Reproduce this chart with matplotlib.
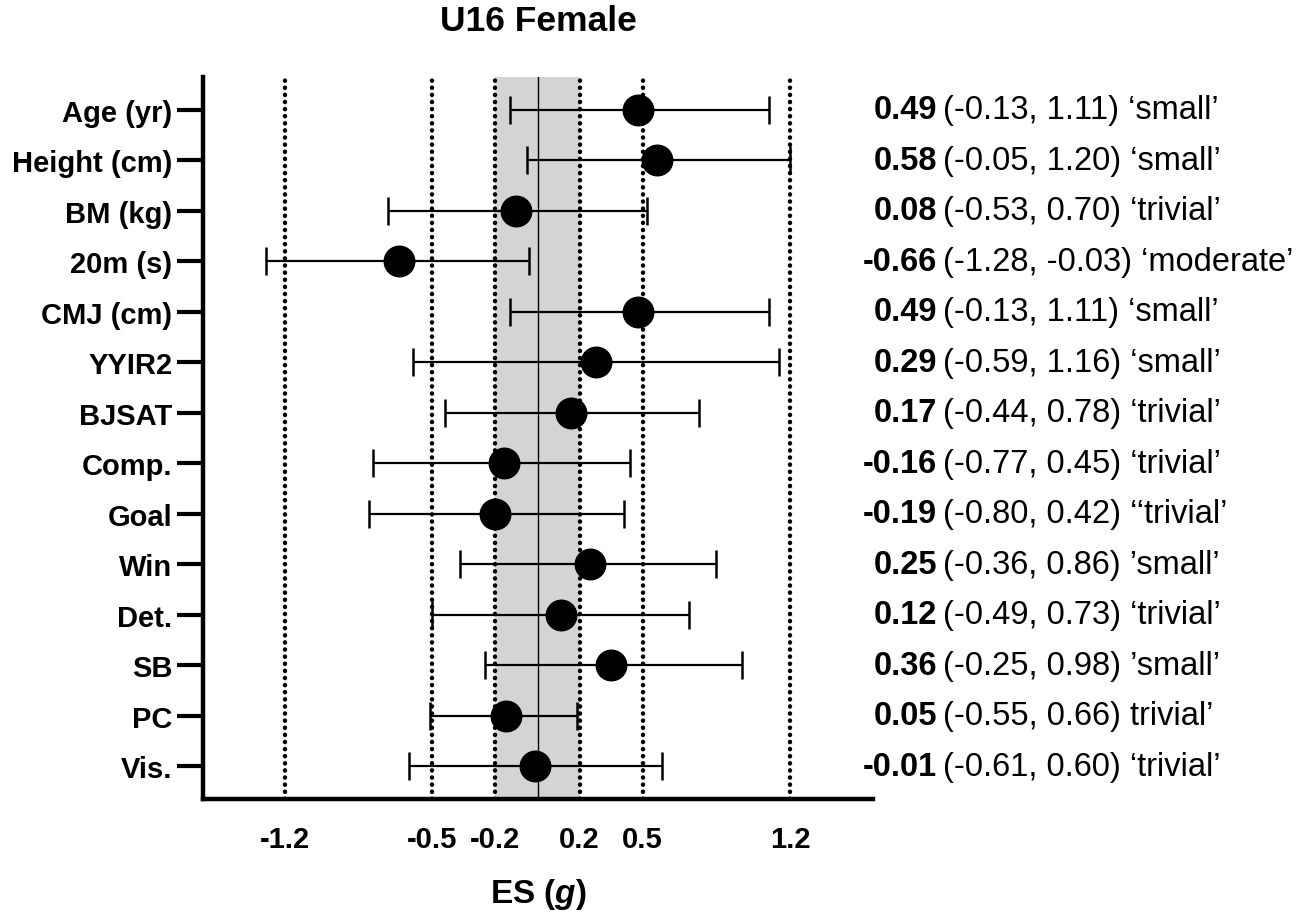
import matplotlib
matplotlib.use("Agg")
import matplotlib.pyplot as plt

plt.rcParams['font.family'] = ['Liberation Sans', 'DejaVu Sans']
plt.rcParams['mathtext.fontset'] = 'custom'
plt.rcParams['mathtext.it'] = 'Liberation Sans:bold:italic'
plt.rcParams['mathtext.rm'] = 'Liberation Sans:bold'

# data
labels = ['Age (yr)', 'Height (cm)', 'BM (kg)', '20m (s)', 'CMJ (cm)', 'YYIR2',
          'BJSAT', 'Comp.', 'Goal', 'Win', 'Det.', 'SB', 'PC', 'Vis.']
es = [0.48, 0.57, -0.10, -0.66, 0.48, 0.28, 0.16, -0.16, -0.20, 0.25, 0.11, 0.35, -0.15, -0.01]
lo = [-0.13, -0.05, -0.71, -1.29, -0.13, -0.59, -0.44, -0.78, -0.80, -0.37, -0.50, -0.25, -0.51, -0.61]
hi = [1.10, 1.20, 0.52, -0.04, 1.10, 1.15, 0.77, 0.44, 0.41, 0.85, 0.72, 0.97, 0.19, 0.59]

# annotation text on the right
es_txt = ['0.49', '0.58', '0.08', '-0.66', '0.49', '0.29', '0.17', '-0.16', '-0.19',
          '0.25', '0.12', '0.36', '0.05', '-0.01']
ci_txt = ["(-0.13, 1.11) \u2018small\u2019", "(-0.05, 1.20) \u2018small\u2019",
          "(-0.53, 0.70) \u2018trivial\u2019", "(-1.28, -0.03) \u2018moderate\u2019",
          "(-0.13, 1.11) \u2018small\u2019", "(-0.59, 1.16) \u2018small\u2019",
          "(-0.44, 0.78) \u2018trivial\u2019", "(-0.77, 0.45) \u2018trivial\u2019",
          "(-0.80, 0.42) \u2018\u2018trivial\u2019", "(-0.36, 0.86) \u2019small\u2019",
          "(-0.49, 0.73) \u2018trivial\u2019", "(-0.25, 0.98) \u2019small\u2019",
          "(-0.55, 0.66) trivial\u2019", "(-0.61, 0.60) \u2018trivial\u2019"]

ref_lines = [-1.2, -0.5, -0.2, 0.2, 0.5, 1.2]

fig = plt.figure(figsize=(13.04, 9.2), dpi=100)
ax = fig.add_axes([0.1557, 0.1304, 0.5138, 0.7850])

ypos = list(range(len(labels)))
ax.axvspan(-0.2, 0.2, color='#d4d4d4', lw=0, zorder=0)
ax.axvline(0, color='black', lw=1.0, zorder=1)
for x in ref_lines:
    ax.axvline(x, color='black', lw=3.2, ls=(0, (0.05, 1.55)),
               dash_capstyle='round', zorder=2)

err = [[e - l for e, l in zip(es, lo)], [h - e for e, h in zip(es, hi)]]
ax.errorbar(es, ypos, xerr=err, fmt='o', color='black', ms=22, lw=1.6,
            capsize=10, capthick=1.8, zorder=3)

ax.set_xlim(-1.59, 1.595)
ax.set_ylim(len(labels) - 0.35, -0.65)
ax.set_xticks(ref_lines)
ax.set_xticklabels(['-1.2', '-0.5', '-0.2', '0.2', '0.5', '1.2'])
ax.set_yticks(ypos)
ax.set_yticklabels(labels)
for t in ax.get_xticklabels() + ax.get_yticklabels():
    t.set_fontweight('bold')
    t.set_fontsize(21)
ax.tick_params(axis='x', length=0, pad=19)
ax.tick_params(axis='y', length=19, width=3, pad=3)

for s in ['top', 'right']:
    ax.spines[s].set_visible(False)
for s in ['left', 'bottom']:
    ax.spines[s].set_linewidth(3.2)

ax.set_title('U16 Female', fontsize=25.5, fontweight='bold', pad=34)
ax.set_xlabel(r'ES ($g$)', fontsize=24, fontweight='bold', labelpad=16)

# right-hand annotations
for i in ypos:
    ax.annotate(es_txt[i], xy=(1.0, i), xycoords=('axes fraction', 'data'),
                xytext=(64, 0), textcoords='offset pixels', ha='right', va='center',
                fontsize=23.5, fontweight='bold', annotation_clip=False)
    ax.annotate(ci_txt[i], xy=(1.0, i), xycoords=('axes fraction', 'data'),
                xytext=(70, 0), textcoords='offset pixels', ha='left', va='center',
                fontsize=23.5, annotation_clip=False)

fig.savefig('out.png', dpi=100)
